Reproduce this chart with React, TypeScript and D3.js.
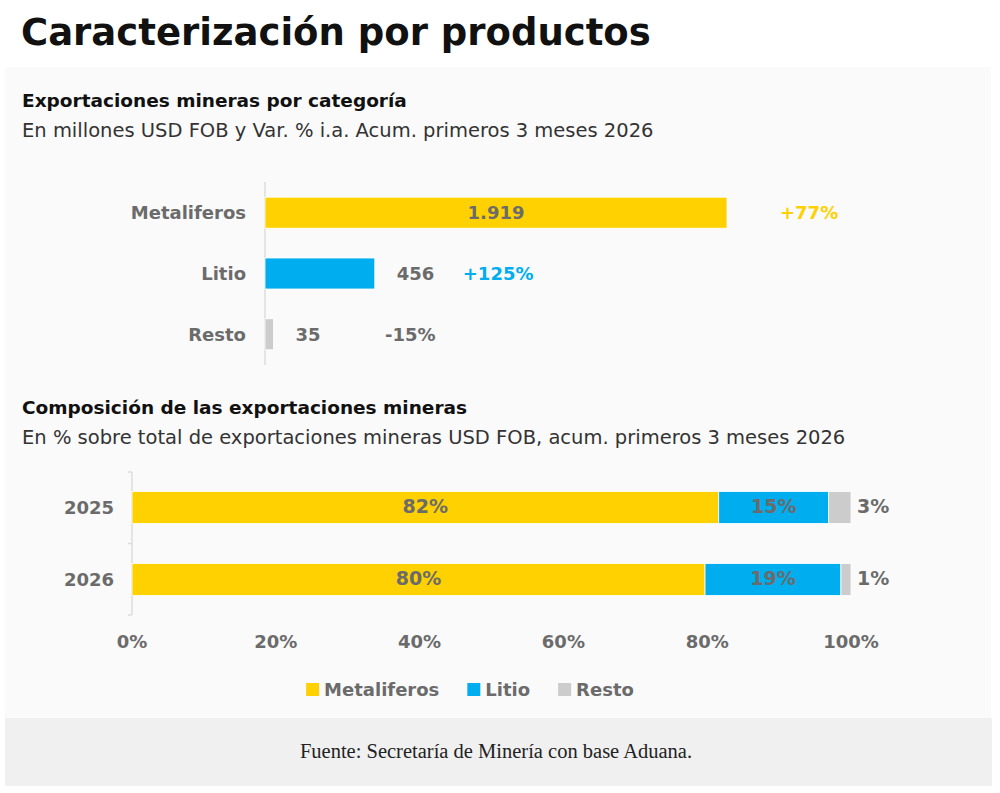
import React, { useRef, useEffect } from 'react';
import * as d3 from 'd3';

// top chart: exports by category (USD FOB millions, cumulative Q1 2026)
const categories = ['Metaliferos', 'Litio', 'Resto'];
const exportValues = [1919, 456, 35];
const exportLabels = ['1.919', '456', '35'];
const yoyChange = ['+77%', '+125%', '-15%'];

// bottom chart: share of mining exports (%)
const years = ['2025', '2026'];
const shareMetaliferos = [81.6, 79.7];
const shareLitio = [15.3, 18.9];
const shareResto = [3.1, 1.4];
const xTicks = [0, 20, 40, 60, 80, 100];

const COLORS: Record<string, string> = {
  Metaliferos: '#FFD100',
  Litio: '#00AEEF',
  Resto: '#CCCCCC',
};
const changeColors = ['#FFD100', '#00AEEF', '#6b6b6b'];

const FONT = "'DejaVu Sans', sans-serif";
const GRAY = '#6b6b6b';

const App: React.FC = () => {
  const legendRef = useRef<SVGGElement | null>(null);

  // top chart scales
  const x1 = d3.scaleLinear().domain([0, d3.max(exportValues)!]).range([265, 727]);
  const y1 = d3.scaleBand<string>().domain(categories).range([182, 365]).paddingInner(0.49).paddingOuter(0.25);

  // bottom chart scales
  const x2 = d3.scaleLinear().domain([0, 100]).range([132, 851]);
  const y2 = d3.scaleBand<string>().domain(years).range([472, 615]).paddingInner(0.556).paddingOuter(0.271);

  const stacked = d3.stack<{ year: string; Metaliferos: number; Litio: number; Resto: number }>()
    .keys(['Metaliferos', 'Litio', 'Resto'])(
      years.map((year, i) => ({
        year,
        Metaliferos: shareMetaliferos[i],
        Litio: shareLitio[i],
        Resto: shareResto[i],
      }))
    );

  useEffect(() => {
    const g = d3.select(legendRef.current);
    g.selectAll('*').remove();
    const items = g.selectAll('g').data(categories).enter().append('g');
    items.append('rect').attr('width', 13).attr('height', 13).attr('y', -13).attr('fill', (d) => COLORS[d]);
    items.append('text')
      .attr('x', 18)
      .attr('y', 0)
      .attr('font-family', FONT)
      .attr('font-size', 18)
      .attr('font-weight', 600)
      .attr('fill', GRAY)
      .text((d) => d);
    let offset = 0;
    const widths: number[] = [];
    items.each(function () {
      const w = (this as SVGGElement).getBBox().width;
      widths.push(w);
    });
    const gap = 28;
    const total = d3.sum(widths) + gap * (widths.length - 1);
    const start = 470 - total / 2;
    items.attr('transform', (_, i) => {
      const t = `translate(${start + offset},696)`;
      offset += widths[i] + gap;
      return t;
    });
  }, []);

  return (
    <svg width={1000} height={793} style={{ position: 'absolute', left: 0, top: 0 }} fontFamily={FONT}>
      <rect width={1000} height={793} fill="#ffffff" />
      <text x={21} y={45} fontSize={37} fontWeight={700} fill="#111">Caracterización por productos</text>

      <rect x={5} y={67} width={986} height={651} fill="#fafafa" />

      <text x={22} y={107} fontSize={18.5} fontWeight={700} fill="#111">Exportaciones mineras por categoría</text>
      <text x={22} y={137} fontSize={19.5} fill="#333">En millones USD FOB y Var. % i.a. Acum. primeros 3 meses 2026</text>

      {/* top chart */}
      <line x1={x1(0)} x2={x1(0)} y1={182} y2={365} stroke="#dddddd" strokeWidth={1.5} />
      {categories.map((c, i) => {
        const y = y1(c)!;
        const bw = y1.bandwidth();
        const xEnd = x1(exportValues[i]);
        const inside = xEnd - x1(0) > 200;
        const valueX = inside ? (x1(0) + xEnd) / 2 : xEnd + 22;
        const changeX = inside ? xEnd + 53 : Math.max(xEnd + 88, x1(0) + 120);
        return (
          <g key={c}>
            <text x={246} y={y + bw / 2} dy="0.35em" textAnchor="end" fontSize={18} fontWeight={600} fill={GRAY}>{c}</text>
            <rect x={x1(0)} y={y} width={xEnd - x1(0)} height={bw} fill={COLORS[c]} stroke="#ffffff" strokeWidth={0.8} />
            <text x={valueX} y={y + bw / 2} dy="0.35em" textAnchor={inside ? 'middle' : 'start'} fontSize={18} fontWeight={600} fill={GRAY}>{exportLabels[i]}</text>
            <text x={changeX} y={y + bw / 2} dy="0.35em" fontSize={18} fontWeight={700} fill={changeColors[i]}>{yoyChange[i]}</text>
          </g>
        );
      })}

      <text x={22} y={414} fontSize={18.5} fontWeight={700} fill="#111">Composición de las exportaciones mineras</text>
      <text x={22} y={444} fontSize={19.5} fill="#333">En % sobre total de exportaciones mineras USD FOB, acum. primeros 3 meses 2026</text>

      {/* bottom chart */}
      <line x1={x2(0)} x2={x2(0)} y1={472} y2={615} stroke="#dddddd" strokeWidth={1.5} />
      {[472, (y2(years[0])! + y2.bandwidth() + y2(years[1])!) / 2, 615].map((t, i) => (
        <line key={i} x1={x2(0) - 4} x2={x2(0)} y1={t} y2={t} stroke="#dddddd" strokeWidth={1.5} />
      ))}
      {years.map((yr) => (
        <text key={yr} x={114} y={y2(yr)! + y2.bandwidth() / 2} dy="0.35em" textAnchor="end" fontSize={18} fontWeight={600} fill={GRAY}>{yr}</text>
      ))}
      {stacked.map((layer) => (
        <g key={layer.key}>
          {layer.map((d, i) => {
            const y = y2(years[i])!;
            const bw = y2.bandwidth();
            const share = d[1] - d[0];
            const label = `${Math.round(share)}%`;
            const outside = layer.key === 'Resto';
            return (
              <g key={years[i]}>
                <rect x={x2(d[0])} y={y} width={x2(d[1]) - x2(d[0])} height={bw} fill={COLORS[layer.key]} stroke="#ffffff" strokeWidth={0.8} />
                <text
                  x={outside ? x2(d[1]) + 6 : (x2(d[0]) + x2(d[1])) / 2}
                  y={y + bw / 2}
                  dy="0.3em"
                  textAnchor={outside ? 'start' : 'middle'}
                  fontSize={19}
                  fontWeight={600}
                  fill={GRAY}
                >
                  {label}
                </text>
              </g>
            );
          })}
        </g>
      ))}
      {xTicks.map((t) => (
        <text key={t} x={x2(t)} y={648} textAnchor="middle" fontSize={18} fontWeight={600} fill={GRAY}>{t}%</text>
      ))}

      <g ref={legendRef} />

      <rect x={5} y={718} width={987} height={68} fill="#f0f0f0" />
      <text x={496} y={758} textAnchor="middle" fontFamily="'Liberation Serif', serif" fontSize={20.5} fill="#222">
        Fuente: Secretaría de Minería con base Aduana.
      </text>
    </svg>
  );
};

export default App;
